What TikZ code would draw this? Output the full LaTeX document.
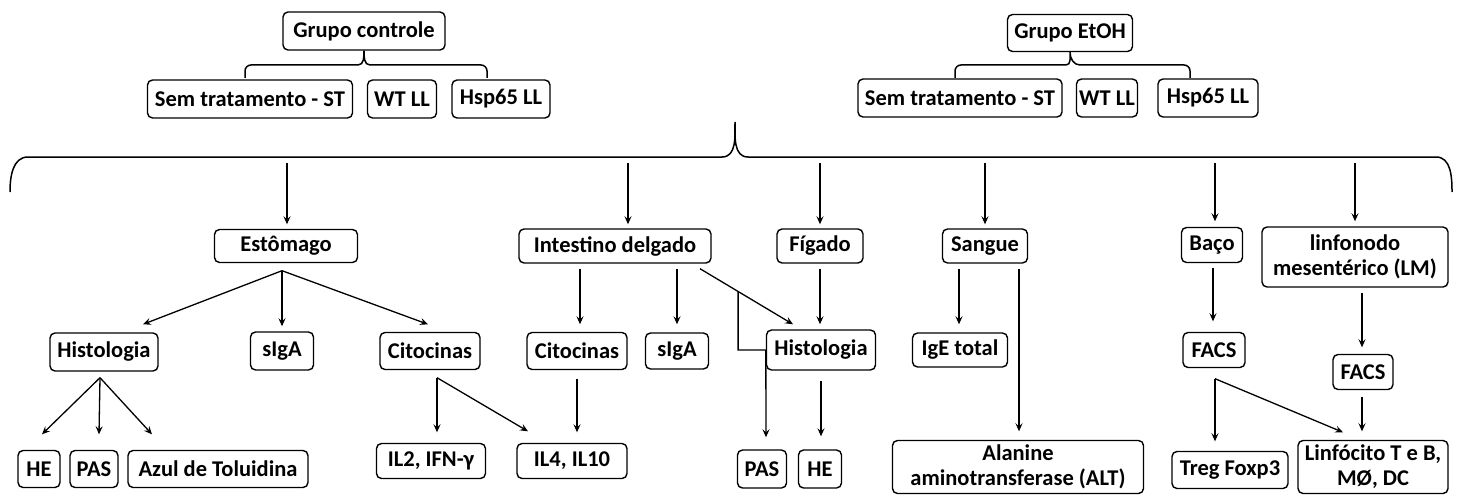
\documentclass[tikz,border=0pt]{standalone}
\usepackage{fontspec}
\setmainfont{Carlito}
\usetikzlibrary{arrows.meta}
\begin{document}
\begin{tikzpicture}[x=1pt,y=-1pt,
  box/.style={draw, rounded corners=5pt, line width=1.4pt, inner xsep=2pt, inner ysep=0pt,
    font=\fontsize{22.5}{25}\selectfont\bfseries, align=center},
  arr/.style={line width=1.3pt, -{Stealth[length=8pt,width=7pt,inset=3pt]}},
  brace/.style={line width=1.5pt}]
\useasboundingbox (0,0) rectangle (1464,500);
% top groups
\node[box, minimum width=162, minimum height=38] (gc) at (364,31) {Grupo controle};
\node[box, minimum width=125, minimum height=37] (ge) at (1070,33) {Grupo EtOH};
\node[box, minimum width=205, minimum height=38] (st1) at (250,99) {Sem tratamento - ST};
\node[box, minimum width=69, minimum height=38] (wt1) at (402,99) {WT LL};
\node[box, minimum width=98, minimum height=38] (hsp1) at (501,99) {Hsp65 LL};
\node[box, minimum width=204, minimum height=38] (st2) at (960,98) {Sem tratamento - ST};
\node[box, minimum width=61, minimum height=38] (wt2) at (1107,98) {WT LL};
\node[box, minimum width=100, minimum height=38] (hsp2) at (1208,98) {Hsp65 LL};
% row 2
\node[box, minimum width=143, minimum height=33] (est) at (286,246) {Estômago};
\node[box, minimum width=192, minimum height=34] (int) at (615,246) {Intestino delgado};
\node[box, minimum width=86, minimum height=34] (fig) at (820,246) {Fígado};
\node[box, minimum width=85, minimum height=34] (san) at (985,246) {Sangue};
\node[box, minimum width=61, minimum height=35] (baco) at (1212,245) {Baço};
\node[box, minimum width=186, minimum height=60] (lm) at (1355,257) {linfonodo\\mesentérico (LM)};
% row 3
\node[box, minimum width=108, minimum height=38] (hist1) at (104,352) {Histologia};
\node[box, minimum width=63, minimum height=38] (sig1) at (282,351) {sIgA};
\node[box, minimum width=100, minimum height=37] (cit1) at (430,351) {Citocinas};
\node[box, minimum width=100, minimum height=37] (cit2) at (577,351) {Citocinas};
\node[box, minimum width=63, minimum height=36] (sig2) at (677,351) {sIgA};
\node[box, minimum width=109, minimum height=40] (hist2) at (821,350) {Histologia};
\node[box, minimum width=95, minimum height=34] (ige) at (960,350) {IgE total};
\node[box, minimum width=62, minimum height=35] (facs1) at (1214,350) {FACS};
\node[box, minimum width=60, minimum height=35] (facs2) at (1363,372) {FACS};
% row 4
\node[box, minimum width=42, minimum height=37] (he1) at (39,469) {HE};
\node[box, minimum width=48, minimum height=37] (pas1) at (94,469) {PAS};
\node[box, minimum width=180, minimum height=37] (azul) at (218,469) {Azul de Toluidina};
\node[box, minimum width=109, minimum height=35] (il2) at (431,461) {IL2, IFN-γ};
\node[box, minimum width=110, minimum height=35] (il4) at (572,461) {IL4, IL10};
\node[box, minimum width=49, minimum height=38] (pas2) at (762,469) {PAS};
\node[box, minimum width=43, minimum height=38] (he2) at (820,469) {HE};
\node[box, minimum width=251, minimum height=53] (alt) at (1018,467) {Alanine\\aminotransferase (ALT)};
\node[box, minimum width=116, minimum height=37] (treg) at (1230,470) {Treg Foxp3};
\node[box, minimum width=150, minimum height=53] (linf) at (1373,467) {Linfócito T e B,\\MØ, DC};
% small braces
\draw[brace] (245,78) -- (245,71) to[out=90,in=180] (251,65) -- (358,65) to[out=0,in=-90] (gc.south)
  to[out=-90,in=180] (370,65) -- (481,65) to[out=0,in=90] (487,71) -- (487,78);
\draw[brace] (955,78) -- (955,71) to[out=90,in=180] (961,65) -- (1066,65) to[out=0,in=-90] (ge.south)
  to[out=-90,in=180] (1080,65) -- (1184,65) to[out=0,in=90] (1190,71) -- (1190,78);
% big brace
\coordinate (btip) at (735,122);
\draw[brace] (10,192) to[out=90,in=180] (28,157) -- (722,157) to[out=0,in=-90] (btip)
  to[out=-90,in=180] (748,157) -- (1436,157) to[out=0,in=90] (1452,192);
% brace arrows
\coordinate (b1) at (287,163);
\coordinate (b2) at (628,163);
\coordinate (b3) at (820,163);
\coordinate (b4) at (985,163);
\coordinate (b5) at (1215,163);
\coordinate (b6) at (1355,163);
\draw[arr] (b1) -- ([shift={(1,-4.5)}]est.north);
\draw[arr] (b2) -- ([shift={(13,-4)}]int.north);
\draw[arr] (b3) -- ([shift={(0,-4)}]fig.north);
\draw[arr] (b4) -- ([shift={(0,-4)}]san.north);
\draw[arr] (b5) -- ([shift={(3,-5.5)}]baco.north);
\draw[arr] (b6) -- ([shift={(0,-5)}]lm.north);
% Estomago
\draw[arr] ([shift={(-4,7.5)}]est.south) -- ([shift={(39,-8)}]hist1.north);
\draw[arr] ([shift={(-4,7.5)}]est.south) -- ([shift={(0,-5)}]sig1.north);
\draw[arr] ([shift={(-4,7.5)}]est.south) -- ([shift={(-2,-7.5)}]cit1.north);
\draw[arr] ([shift={(-4,6)}]hist1.south) -- ([shift={(3,-15.5)}]he1.north);
\draw[arr] ([shift={(-4,6)}]hist1.south) -- ([shift={(5,-15.5)}]pas1.north);
\draw[arr] ([shift={(-4,6)}]hist1.south) -- ([shift={(-66,-15.5)}]azul.north);
\draw[arr] ([shift={(7,7.5)}]cit1.south) -- ([shift={(6,-10.5)}]il2.north);
\draw[arr] ([shift={(7,7.5)}]cit1.south) -- ([shift={(-44,-11.5)}]il4.north);
% Intestino
\draw[arr] ([shift={(-35,5)}]int.south) -- ([shift={(3,-7.5)}]cit2.north);
\draw[arr] ([shift={(62,5)}]int.south) -- ([shift={(0,-8)}]sig2.north);
\draw[arr] ([shift={(85,5)}]int.south) -- coordinate[pos=0.41] (elb) ([shift={(-28,-5)}]hist2.north);
\draw[arr] (elb) |- (hist2.west) -- ([shift={(4,-12)}]pas2.north);
\draw[arr] ([shift={(0,8.5)}]cit2.south) -- ([shift={(5,-10.5)}]il4.north);
% Figado
\draw[arr] ([shift={(0,5)}]fig.south) -- ([shift={(-1,-5)}]hist2.north);
\draw[arr] ([shift={(0,10)}]hist2.south) -- ([shift={(1,-13)}]he2.north);
% Sangue
\draw[arr] ([shift={(-26,5)}]san.south) -- ([shift={(-1,-8)}]ige.north);
\draw[arr] ([shift={(34,5)}]san.south) -- ([shift={(1,-8.5)}]alt.north);
% Baco
\draw[arr] ([shift={(1,4.5)}]baco.south) -- ([shift={(-1,-10.5)}]facs1.north);
\draw[arr] ([shift={(1,10.5)}]facs1.south) -- ([shift={(-15,-9.5)}]treg.north);
\draw[arr] ([shift={(1,10.5)}]facs1.south) -- ([shift={(-30,-7.5)}]linf.north);
% LM
\draw[arr] ([shift={(7,5)}]lm.south) -- ([shift={(-1,-6.5)}]facs2.north);
\draw[arr] ([shift={(-1,6.5)}]facs2.south) -- ([shift={(-11,-8.5)}]linf.north);
\end{tikzpicture}
\end{document}
